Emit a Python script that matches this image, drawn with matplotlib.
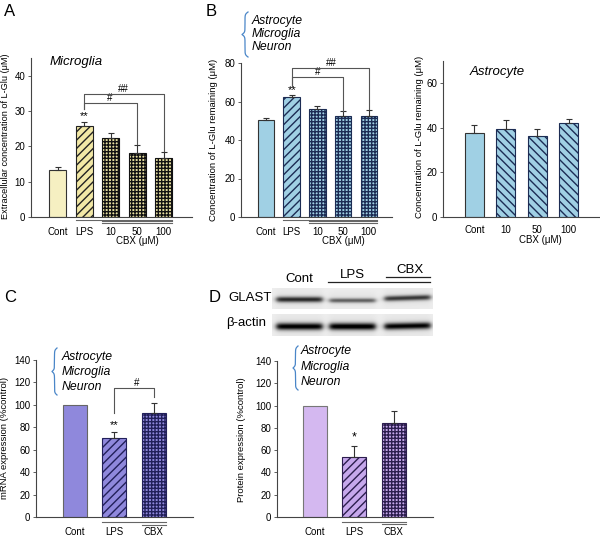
import numpy as np
import matplotlib
matplotlib.use('Agg')
import matplotlib.pyplot as plt

plt.rcParams['font.family'] = ['Liberation Sans', 'DejaVu Sans']
plt.rcParams['hatch.linewidth'] = 1.0

# ---------------- data ----------------
a_labels = ['Cont', 'LPS', '10', '50', '100']
a_vals = [13.3, 25.8, 22.4, 18.2, 16.6]
a_err = [0.9, 1.1, 1.5, 2.3, 1.8]

b_labels = ['Cont', 'LPS', '10', '50', '100']
b_vals = [50.6, 62.3, 56.3, 52.6, 52.6]
b_err = [0.8, 0.9, 1.5, 2.3, 3.2]

b2_labels = ['Cont', '10', '50', '100']
b2_vals = [37.5, 39.4, 36.4, 42.3]
b2_err = [4.0, 4.1, 2.9, 1.8]

c_labels = ['Cont', 'LPS', 'CBX']
c_vals = [100, 70.2, 93.0]
c_err = [0, 5.8, 8.4]

d_labels = ['Cont', 'LPS', 'CBX']
d_vals = [100, 53.8, 84.4]
d_err = [0, 10.2, 11.0]

blot_lanes = ['Cont', 'LPS', 'CBX']
glast_density = [0.72, 0.50, 0.66]
actin_density = [0.90, 0.92, 0.88]

cells = ['Astrocyte', 'Microglia', 'Neuron']

# ---------------- layout helpers ----------------
W, H = 600, 538
fig = plt.figure(figsize=(6, 5.38), dpi=100)


def box(l, t, r, b):
    return [l / W, 1 - b / H, (r - l) / W, (b - t) / H]


ov = fig.add_axes([0, 0, 1, 1], zorder=5)
ov.set_xlim(0, W)
ov.set_ylim(H, 0)
ov.axis('off')
ov.patch.set_alpha(0)

EDGE = '#333333'


def style(ax, ylim, yticks, xlim, labels, pad):
    ax.set_ylim(*ylim)
    ax.set_yticks(yticks)
    ax.set_xlim(*xlim)
    ax.set_xticks(np.arange(len(labels)), labels)
    for s in ['top', 'right']:
        ax.spines[s].set_visible(False)
    for s in ['left', 'bottom']:
        ax.spines[s].set_color('#444444')
        ax.spines[s].set_linewidth(0.8)
    ax.tick_params(axis='y', length=2, width=0.6, colors='#444444',
                   labelcolor='black', labelsize=7, pad=2)
    ax.tick_params(axis='x', length=0, labelsize=7, pad=pad)
    ax.patch.set_alpha(0)


def bars(ax, vals, errs, faces, hatches, edges, width):
    x = np.arange(len(vals))
    for xi, v, fc, h, ec in zip(x, vals, faces, hatches, edges):
        ax.bar(xi, v, width, color=fc, hatch=h, edgecolor=ec,
               linewidth=0.8, zorder=2)
    errs = np.asarray(errs, float)
    m = errs > 0
    ax.errorbar(x[m], np.asarray(vals)[m], yerr=[np.zeros(m.sum()), errs[m]],
                fmt='none', ecolor='#333333', elinewidth=0.8, capsize=2.5,
                capthick=0.8, zorder=3)


def bracket(ax, x0, x1, y, y0, y1, label, lx):
    ax.plot([x0, x0, x1, x1], [y0, y, y, y1], color='#555555', lw=0.8,
            clip_on=False, zorder=4)
    ax.text(lx, y, label, ha='center', va='bottom', fontsize=7)


def underline(ax, x0, x1, frac):
    ax.plot([x0, x1], [frac, frac], color='#666666', lw=0.8,
            transform=ax.get_xaxis_transform(), clip_on=False)


def brace(x_right, y_top, y_bot, w, color='#4a86c8'):
    half = (y_bot - y_top) / 2
    t = np.linspace(0, half, 200)
    beta = 0.9
    xh = 1 / (1 + np.exp(-beta * (t - t[0]))) + 1 / (1 + np.exp(-beta * (t - t[-1])))
    xx = np.concatenate((xh, xh[-2::-1]))
    yy = y_top + np.concatenate((t, half + t[1:]))
    ov.plot(x_right - w * (xx - 0.5), yy, color=color, lw=0.9)


def cell_list(x, ys, fs):
    for name, y in zip(cells, ys):
        ov.text(x, y, name, fontsize=fs, style='italic', ha='left', va='center')


# ---------------- Panel A ----------------
axA = fig.add_axes(box(31, 58, 192, 217))
bars(axA, a_vals, a_err,
     ['#f6f0c2', '#f2e8a6', '#e8e0a0', '#e8e0a0', '#e8e0a0'],
     ['', '////', '+++++', '+++++', '+++++'],
     [EDGE, '#222222', '#111111', '#111111', '#111111'], 0.64)
style(axA, (0, 45), [0, 10, 20, 30, 40], (-1.0, 5.06), a_labels, 7)
bracket(axA, 1, 4, 34.7, 30.6, 18.6, '##', 2.46)
bracket(axA, 1, 3, 32.2, 30.6, 20.7, '#', 1.97)
axA.text(1, 28.6, '**', ha='center', va='center', fontsize=8)
for f, x0 in [(-0.019, 0.68), (-0.028, 1.68), (-0.037, 1.68)]:
    underline(axA, x0, 4.32, f)
ov.text(137, 241, 'CBX (μM)', fontsize=7, ha='center', va='center')
ov.text(6, 136, 'Extracellular concentration of L-Glu (μM)', rotation=90,
        fontsize=6.6, ha='center', va='center')
ov.text(50, 62, 'Microglia', fontsize=9.5, style='italic', ha='left', va='center')
ov.text(4, 11, 'A', fontsize=12, ha='left', va='center')

# ---------------- Panel B (left) ----------------
LB = '#a0d0e4'
NAVY = '#1c2c54'
axB = fig.add_axes(box(241, 63, 392, 217))
bars(axB, b_vals, b_err,
     [LB, LB, LB, LB, LB],
     ['', '////', '+++++', '+++++', '+++++'],
     [EDGE, NAVY, NAVY, NAVY, NAVY], 0.64)
style(axB, (0, 80), [0, 20, 40, 60, 80], (-0.97, 4.9), b_labels, 7)
bracket(axB, 1, 4, 77.6, 67.9, 56.0, '##', 2.56)
bracket(axB, 1, 3, 72.9, 67.9, 55.1, '#', 2.0)
axB.text(1, 65.8, '**', ha='center', va='center', fontsize=8)
for f, x0 in [(-0.019, 0.68), (-0.029, 1.68), (-0.039, 1.68)]:
    underline(axB, x0, 4.32, f)
ov.text(343, 241, 'CBX (μM)', fontsize=7, ha='center', va='center')
ov.text(214, 140, 'Concentration of L-Glu remaining (μM)', rotation=90,
        fontsize=6.8, ha='center', va='center')
ov.text(206, 11, 'B', fontsize=12, ha='left', va='center')
brace(248, 12, 57, 6)
cell_list(252, [21, 34, 47], 8.8)

# ---------------- Panel B (right) ----------------
axB2 = fig.add_axes(box(443, 61, 600, 217))
bars(axB2, b2_vals, b2_err,
     [LB, LB, LB, LB],
     ['', '\\\\\\\\', '\\\\\\\\', '\\\\\\\\'],
     [EDGE, NAVY, NAVY, NAVY], 0.6)
style(axB2, (0, 70), [0, 20, 40, 60], (-1.0, 4.0), b2_labels, 5.5)
ov.text(540, 240, 'CBX (μM)', fontsize=7, ha='center', va='center')
ov.text(420, 137, 'Concentration of L-Glu remaining (μM)', rotation=90,
        fontsize=6.8, ha='center', va='center')
ov.text(470, 72, 'Astrocyte', fontsize=9.5, style='italic', ha='left', va='center')

# ---------------- Panel C ----------------
PC = '#8f88dc'
NC = '#22205a'
axC = fig.add_axes(box(36, 360, 193, 517))
bars(axC, c_vals, c_err,
     [PC, PC, PC],
     ['', '////', '+++++'],
     ['#666666', NC, NC], 0.61)
style(axC, (0, 140), [0, 20, 40, 60, 80, 100, 120, 140], (-0.99, 3.0), c_labels, 7.2)
bracket(axC, 1, 2, 115.3, 92.6, 107.0, '#', 1.57)
axC.text(1, 82, '**', ha='center', va='center', fontsize=8)
underline(axC, 0.695, 2.305, -0.033)
underline(axC, 1.695, 2.305, -0.048)
ov.text(5, 438, 'mRNA expression (%control)', rotation=90,
        fontsize=6.8, ha='center', va='center')
ov.text(4, 298, 'C', fontsize=12, ha='left', va='center')
brace(57, 348, 395, 5)
cell_list(62, [357, 372, 387], 8.8)

# ---------------- Panel D ----------------
PD = '#d4b8f0'
PD2 = '#c6a8ec'
ND = '#2c1e4e'
axD = fig.add_axes(box(277, 361, 433, 517))
bars(axD, d_vals, d_err,
     [PD, PD2, PD2],
     ['', '////', '+++++'],
     ['#777777', ND, ND], 0.61)
style(axD, (0, 140), [0, 20, 40, 60, 80, 100, 120, 140], (-0.96, 2.99), d_labels, 7.2)
axD.text(1, 71, '*', ha='center', va='center', fontsize=9)
underline(axD, 0.695, 2.305, -0.03)
underline(axD, 1.695, 2.305, -0.046)
ov.text(242, 440, 'Protein expression (%control)', rotation=90,
        fontsize=6.8, ha='center', va='center')
brace(298, 346, 390, 5)
cell_list(301, [351, 367, 382], 8.8)

# ---------------- Western blot ----------------
lane_x = [27, 80, 135]


def blot(rect, dens, ycen, sig, tilt, ny):
    ax = fig.add_axes(rect)
    nx = 161
    xs = np.arange(nx)[None, :].astype(float)
    ys = np.arange(ny)[:, None].astype(float)
    img = np.full((ny, nx), 0.93)
    for c, d, yc, s, tl in zip(lane_x, dens, ycen, sig, tilt):
        hx = (1 / (1 + np.exp(-(xs - (c - 23)) / 1.5))) * \
             (1 / (1 + np.exp((xs - (c + 23)) / 1.5)))
        yc_x = yc + tl * (xs - c)
        prof = np.exp(-0.5 * ((ys - yc_x) / s) ** 2)
        img = img - d * hx * prof - 0.05 * hx * np.exp(-0.5 * ((ys - yc_x) / (3 * s)) ** 2)
    ax.imshow(np.clip(img, 0, 1), cmap='gray', vmin=0, vmax=1, aspect='auto',
              interpolation='bilinear')
    ax.axis('off')


blot(box(272, 288, 433, 309), glast_density, [11, 12, 9.5], [2.0, 1.6, 1.9],
     [0, 0, -0.03], 21)
blot(box(272, 314, 433, 336), actin_density, [12, 12, 11.5], [2.5, 2.5, 2.4],
     [0, 0, -0.02], 22)

ov.text(215, 298, 'D', fontsize=12, ha='center', va='center')
ov.text(272, 298, 'GLAST', fontsize=9.5, ha='right', va='center')
ov.text(266, 323, 'β-actin', fontsize=9.5, ha='right', va='center')
ov.text(299, 279, blot_lanes[0], fontsize=9.5, ha='center', va='center')
ov.text(352, 275, blot_lanes[1], fontsize=9.5, ha='center', va='center')
ov.text(410, 270, blot_lanes[2], fontsize=9.5, ha='center', va='center')
ov.plot([328, 430], [282, 282], color='#222222', lw=0.9)
ov.plot([386, 430], [277, 277], color='#222222', lw=0.9)

fig.savefig('out.png', dpi=100)
